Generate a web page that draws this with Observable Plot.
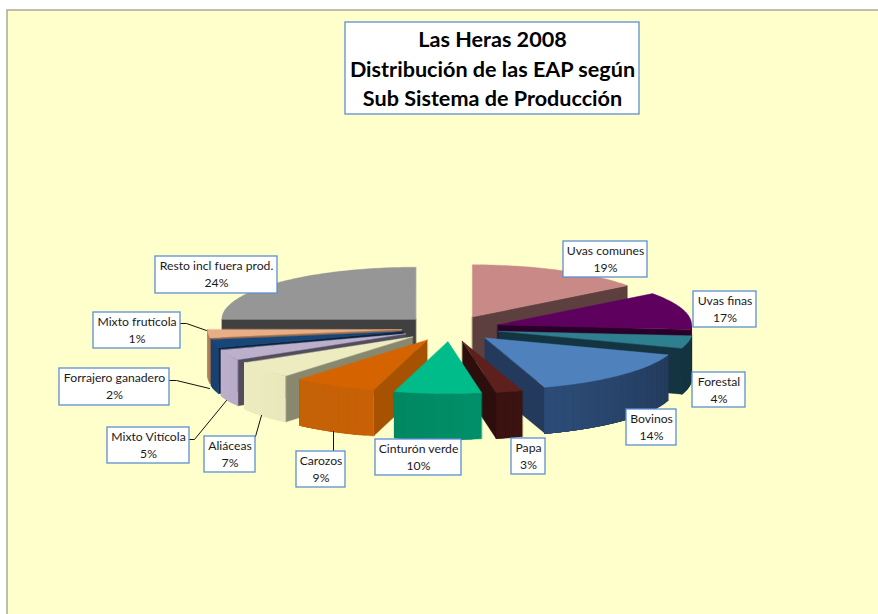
<!DOCTYPE html>
<html>
<head>
<meta charset="utf-8">
<script src="https://cdn.jsdelivr.net/npm/d3@7"></script>
<script src="https://cdn.jsdelivr.net/npm/@observablehq/plot@0.6"></script>
<style>
html,body{margin:0;padding:0;background:#fff}
svg{display:block}
</style>
</head>
<body>
<div id="chart"></div>
<script>
// Data
const categories = ["Uvas comunes","Uvas finas","Forestal","Bovinos","Papa","Cinturón verde","Carozos","Aliáceas","Mixto Vitícola","Forrajero ganadero","Mixto frutícola","Resto incl fuera prod."];
const percents = [19,17,4,14,3,10,9,7,5,2,1,24];
// The printed percentages sum to 115, so drawn sweeps (degrees clockwise from 12 o'clock) are read separately
const sweeps = [53,42,14,53,8,26,25,19,12,9,9,90];
const titleLines = ["Las Heras 2008","Distribución de las EAP según","Sub Sistema de Producción"];

// Styles
const topColors = ["#C98A87","#5E005E","#2E7F90","#4F81BD","#5E201C","#00BC8A","#D46300","#ECECC0","#BBAFCB","#17467A","#E8AE85","#969696"];
const sideStart = ["#5C3F3E","#2A0029","#133440","#233A5C","#3A1210","#00906A","#C86005","#E8E8BC","#B8ACCA","#174272","#A87550","#404040"];
const sideEnd   = ["#5C3F3E","#2A0029","#133440","#2C4C78","#3A1210","#008860","#C46208","#ECECC0","#BBAFCB","#174272","#C08A60","#404040"];
const cutColors = ["#5C3F3E","#2A0029","#133440","#233A5C","#2C0F0D","#00875F","#A65200","#88886E","#524D5C","#0B2340","#A07048","#404040"];

// Layout
const W = 878, H = 614;
const pie = {cx: 450, cy: 328, rx: 194, ry: 52, depth: 46, explode: 49};
const labelBoxes = [[563,241,647,277],[693,291,756,327],[692,372,745,407],[626,409,676,445],[511,438,545,474],[375,439,461,475],[296,451,345,487],[204,436,255,472],[107,427,189,463],[59,368,169,405],[93,312,180,348],[155,256,277,293]];
const titleBox = [345,22,639,114];
const leaders = [
  [[180,323],[186,323],[206,330]],
  [[169,380],[176,380],[209,388]],
  [[189,439],[194,439],[226,400]],
  [[255,436],[261,415]],
  [[333,451],[333,431]]
];

const rad = d => d * Math.PI / 180;
const ends = d3.cumsum(sweeps);
const slices = categories.map((name, i) => {
  const a1 = ends[i], a0 = a1 - sweeps[i], m = (a0 + a1) / 2;
  return {i, name, a0, a1, m,
    ax: pie.cx + pie.explode * Math.sin(rad(m)),
    ay: pie.cy - pie.explode * (pie.ry / pie.rx) * Math.cos(rad(m))};
});
const rim = (s, a) => [s.ax + pie.rx * Math.sin(rad(a)), s.ay - pie.ry * Math.cos(rad(a))];

const polys = [];
let pid = 0;
function addPoly(points, color) {
  const id = pid++;
  for (const [x, y] of points) polys.push({id, x, y, color});
}
// painter's order: far slices first
[...slices].sort((p, q) => Math.cos(rad(q.m)) - Math.cos(rad(p.m))).forEach(s => {
  const apex = [s.ax, s.ay];
  const down = ([x, y]) => [x, y + pie.depth];
  const radial = a => { const r = rim(s, a); addPoly([apex, r, down(r), down(apex)], cutColors[s.i]); };
  if (Math.sin(rad(s.a0)) < -1e-6) radial(s.a0);
  if (Math.sin(rad(s.a1)) > 1e-6) radial(s.a1);
  const lo = Math.max(s.a0, 90), hi = Math.min(s.a1, 270);
  if (hi > lo) {
    const shade = d3.interpolateRgb(sideStart[s.i], sideEnd[s.i]);
    const n = Math.max(1, Math.ceil((hi - lo) / 3));
    // each band runs on to the end of the arc, so the next one paints over it and no seam shows
    for (let k = 0; k < n; k++) {
      const b0 = lo + (hi - lo) * k / n;
      const outline = [];
      for (let j = k; j <= n; j++) outline.push(rim(s, lo + (hi - lo) * j / n));
      addPoly([...outline, ...outline.slice().reverse().map(down)], d3.rgb(shade((k + .5) / n)).formatHex());
    }
  }
  const top = [apex];
  const steps = Math.max(2, Math.ceil(s.a1 - s.a0));
  for (let k = 0; k <= steps; k++) top.push(rim(s, s.a0 + (s.a1 - s.a0) * k / steps));
  addPoly(top, topColors[s.i]);
});

const boxRows = labelBoxes.map((b, i) => ({x1: b[0], y1: b[1], x2: b[2], y2: b[3], name: categories[i], pct: percents[i] + "%"}));
const leaderRows = leaders.flatMap((l, id) => l.map(([x, y]) => ({id, x, y})));
const font = "Lato, 'Open Sans', sans-serif";

const chart = Plot.plot({
  width: W, height: H, margin: 0,
  x: {domain: [0, W], range: [0, W], axis: null},
  y: {domain: [0, H], range: [0, H], axis: null},
  style: {background: "#fff", fontFamily: font},
  marks: [
    Plot.rect([0], {x1: 7, x2: W + 4, y1: 10, y2: H + 4, fill: "#FFFFCC", stroke: "#A9A99B", strokeWidth: 1.5}),
    Plot.line(polys, {x: "x", y: "y", z: "id", fill: "color", stroke: "color", strokeWidth: 0.4, curve: "linear-closed"}),
    Plot.line(leaderRows, {x: "x", y: "y", z: "id", stroke: "#111", strokeWidth: 1}),
    Plot.rect(boxRows, {x1: "x1", x2: "x2", y1: "y1", y2: "y2", fill: "#fff", stroke: "#5B8FD0", strokeWidth: 1.3}),
    Plot.text(boxRows, {x: d => (d.x1 + d.x2) / 2, y: d => d.y1 + 10, text: "name", fontSize: 12.2, fill: "#1a1a1a", fontFamily: font}),
    Plot.text(boxRows, {x: d => (d.x1 + d.x2) / 2, y: d => d.y1 + 27, text: "pct", fontSize: 12.2, fill: "#1a1a1a", fontFamily: font}),
    Plot.rect([0], {x1: titleBox[0], x2: titleBox[2], y1: titleBox[1], y2: titleBox[3], fill: "#fff", stroke: "#5B8FD0", strokeWidth: 1.3}),
    Plot.text(titleLines, {x: (titleBox[0] + titleBox[2]) / 2, y: (d, i) => titleBox[1] + 18 + i * 29.5, text: d => d, fontSize: 21.6, fontWeight: 700, fill: "#000", fontFamily: font})
  ]
});
document.getElementById("chart").append(chart);
</script>
</body>
</html>
